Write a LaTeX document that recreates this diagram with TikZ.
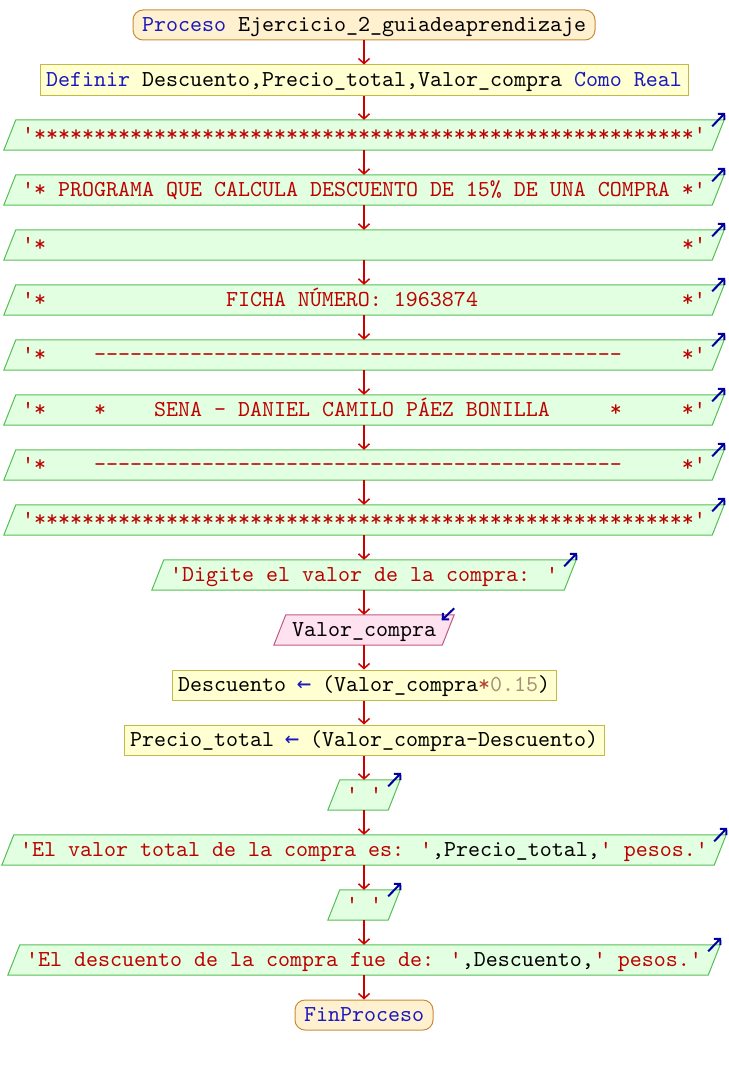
\documentclass[tikz,border=0pt]{standalone}
\usepackage{fontspec}
\newfontfamily\code{lmmono10-regular}[Extension=.otf]
\newfontfamily\arrfont{DejaVu Sans Mono}
\usetikzlibrary{arrows.meta}
\pgfdeclarelayer{bg}
\pgfsetlayers{bg,main}
\definecolor{kwc}{RGB}{25,25,190}
\definecolor{strc}{RGB}{190,0,0}
\definecolor{numc}{RGB}{165,145,115}
\definecolor{opc}{RGB}{175,70,50}
\definecolor{conc}{RGB}{205,0,0}
\definecolor{blc}{RGB}{0,0,160}
\definecolor{outfill}{RGB}{226,255,226}
\definecolor{outdraw}{RGB}{85,190,85}
\definecolor{infill}{RGB}{255,226,240}
\definecolor{indraw}{RGB}{190,90,130}
\definecolor{prfill}{RGB}{255,255,210}
\definecolor{prdraw}{RGB}{195,185,70}
\definecolor{tmfill}{RGB}{255,240,208}
\definecolor{tmdraw}{RGB}{200,140,55}
\newcommand\q{\textquotesingle}
\newcommand\kw[1]{\textcolor{kwc}{#1}}
\newcommand\str[1]{\textcolor{strc}{#1}}
\newcommand\num[1]{\textcolor{numc}{#1}}
\newcommand\spc[1]{\hspace*{\dimexpr 12pt*#1\relax}}
\newcommand\asg{\makebox[12pt]{\textcolor{kwc}{\arrfont\fontsize{24pt}{26pt}\selectfont ←}}}
\tikzset{
  base/.style={font={\code\fontsize{22.857pt}{26pt}\selectfont}, minimum height=30pt, inner ysep=0pt, text height=15pt, text depth=2pt},
  term/.style={base, draw=tmdraw, fill=tmfill, line width=1pt, rounded corners=10pt, inner xsep=9pt},
  proc/.style={base, draw=prdraw, fill=prfill, line width=1pt, inner xsep=6pt},
  iotext/.style={base, inner xsep=12pt},
  outshape/.style={draw=outdraw, fill=outfill, line width=1pt},
  inshape/.style={draw=indraw, fill=infill, line width=1pt},
  conn/.style={draw=conc, line width=1.5pt, -{Straight Barb[length=5pt,width=11pt]}},
  bluearr/.style={draw=blc, line width=2pt, -{Straight Barb[length=4.5pt,width=9pt]}}
}
\newcommand\outnode[3]{%
  \node[iotext] (#1) at (364,#2) {#3};
  \begin{pgfonlayer}{bg}
  \draw[outshape] ([xshift=-6pt]#1.south west) -- ([xshift=6pt]#1.north west) -- ([xshift=6pt]#1.north east) -- ([xshift=-6pt]#1.south east) -- cycle;
  \end{pgfonlayer}
  \draw[bluearr] ([xshift=-6pt,yshift=-6.5pt]#1.north east) -- ([xshift=7pt,yshift=7pt]#1.north east);
}
\newcommand\innode[3]{%
  \node[iotext] (#1) at (364,#2) {#3};
  \begin{pgfonlayer}{bg}
  \draw[inshape] ([xshift=-6pt]#1.south west) -- ([xshift=6pt]#1.north west) -- ([xshift=6pt]#1.north east) -- ([xshift=-6pt]#1.south east) -- cycle;
  \end{pgfonlayer}
  \draw[bluearr] ([xshift=6pt,yshift=6.5pt]#1.north east) -- ([xshift=-6.5pt,yshift=-5.5pt]#1.north east);
}
\begin{document}
\begin{tikzpicture}[x=1pt,y=-1pt]
\useasboundingbox (0,0) rectangle (728,1065);
\node[term] (n0) at (364,25) {\kw{Proceso} Ejercicio\_2\_guiadeaprendizaje};
\node[proc] (n1) at (364,80) {\kw{Definir} Descuento,Precio\_total,Valor\_compra \kw{Como} \kw{Real}};
\outnode{n2}{135}{\str{\q*******************************************************\q}}
\outnode{n3}{190}{\str{\q* PROGRAMA QUE CALCULA DESCUENTO DE 15\% DE UNA COMPRA *\q}}
\outnode{n4}{245}{\str{\q*\spc{53}*\q}}
\outnode{n5}{300}{\str{\q*\spc{15}FICHA NÚMERO: 1963874\spc{17}*\q}}
\outnode{n6}{355}{\str{\q*\spc{4}--------------------------------------------\spc{5}*\q}}
\outnode{n7}{410}{\str{\q*\spc{4}*\spc{4}SENA - DANIEL CAMILO PÁEZ BONILLA\spc{5}*\spc{5}*\q}}
\outnode{n8}{465}{\str{\q*\spc{4}--------------------------------------------\spc{5}*\q}}
\outnode{n9}{520}{\str{\q*******************************************************\q}}
\outnode{n10}{575}{\str{\q Digite el valor de la compra: \q}}
\innode{n11}{630}{Valor\_compra}
\node[proc] (n12) at (364,685) {Descuento \asg{} (Valor\_compra\textcolor{opc}{*}\num{0.15})};
\node[proc] (n13) at (364,740) {Precio\_total \asg{} (Valor\_compra-Descuento)};
\outnode{n14}{795}{\str{\q\ \q}}
\outnode{n15}{850}{\str{\q El valor total de la compra es: \q},Precio\_total,\str{\q\ pesos.\q}}
\outnode{n16}{905}{\str{\q\ \q}}
\outnode{n17}{960}{\str{\q El descuento de la compra fue de: \q},Descuento,\str{\q\ pesos.\q}}
\node[term] (n18) at (364,1015) {\kw{FinProceso}};
\foreach \i [evaluate=\i as \j using int(\i+1)] in {0,...,17}
  \draw[conn] (n\i.south) -- (n\j.north);
\end{tikzpicture}
\end{document}
